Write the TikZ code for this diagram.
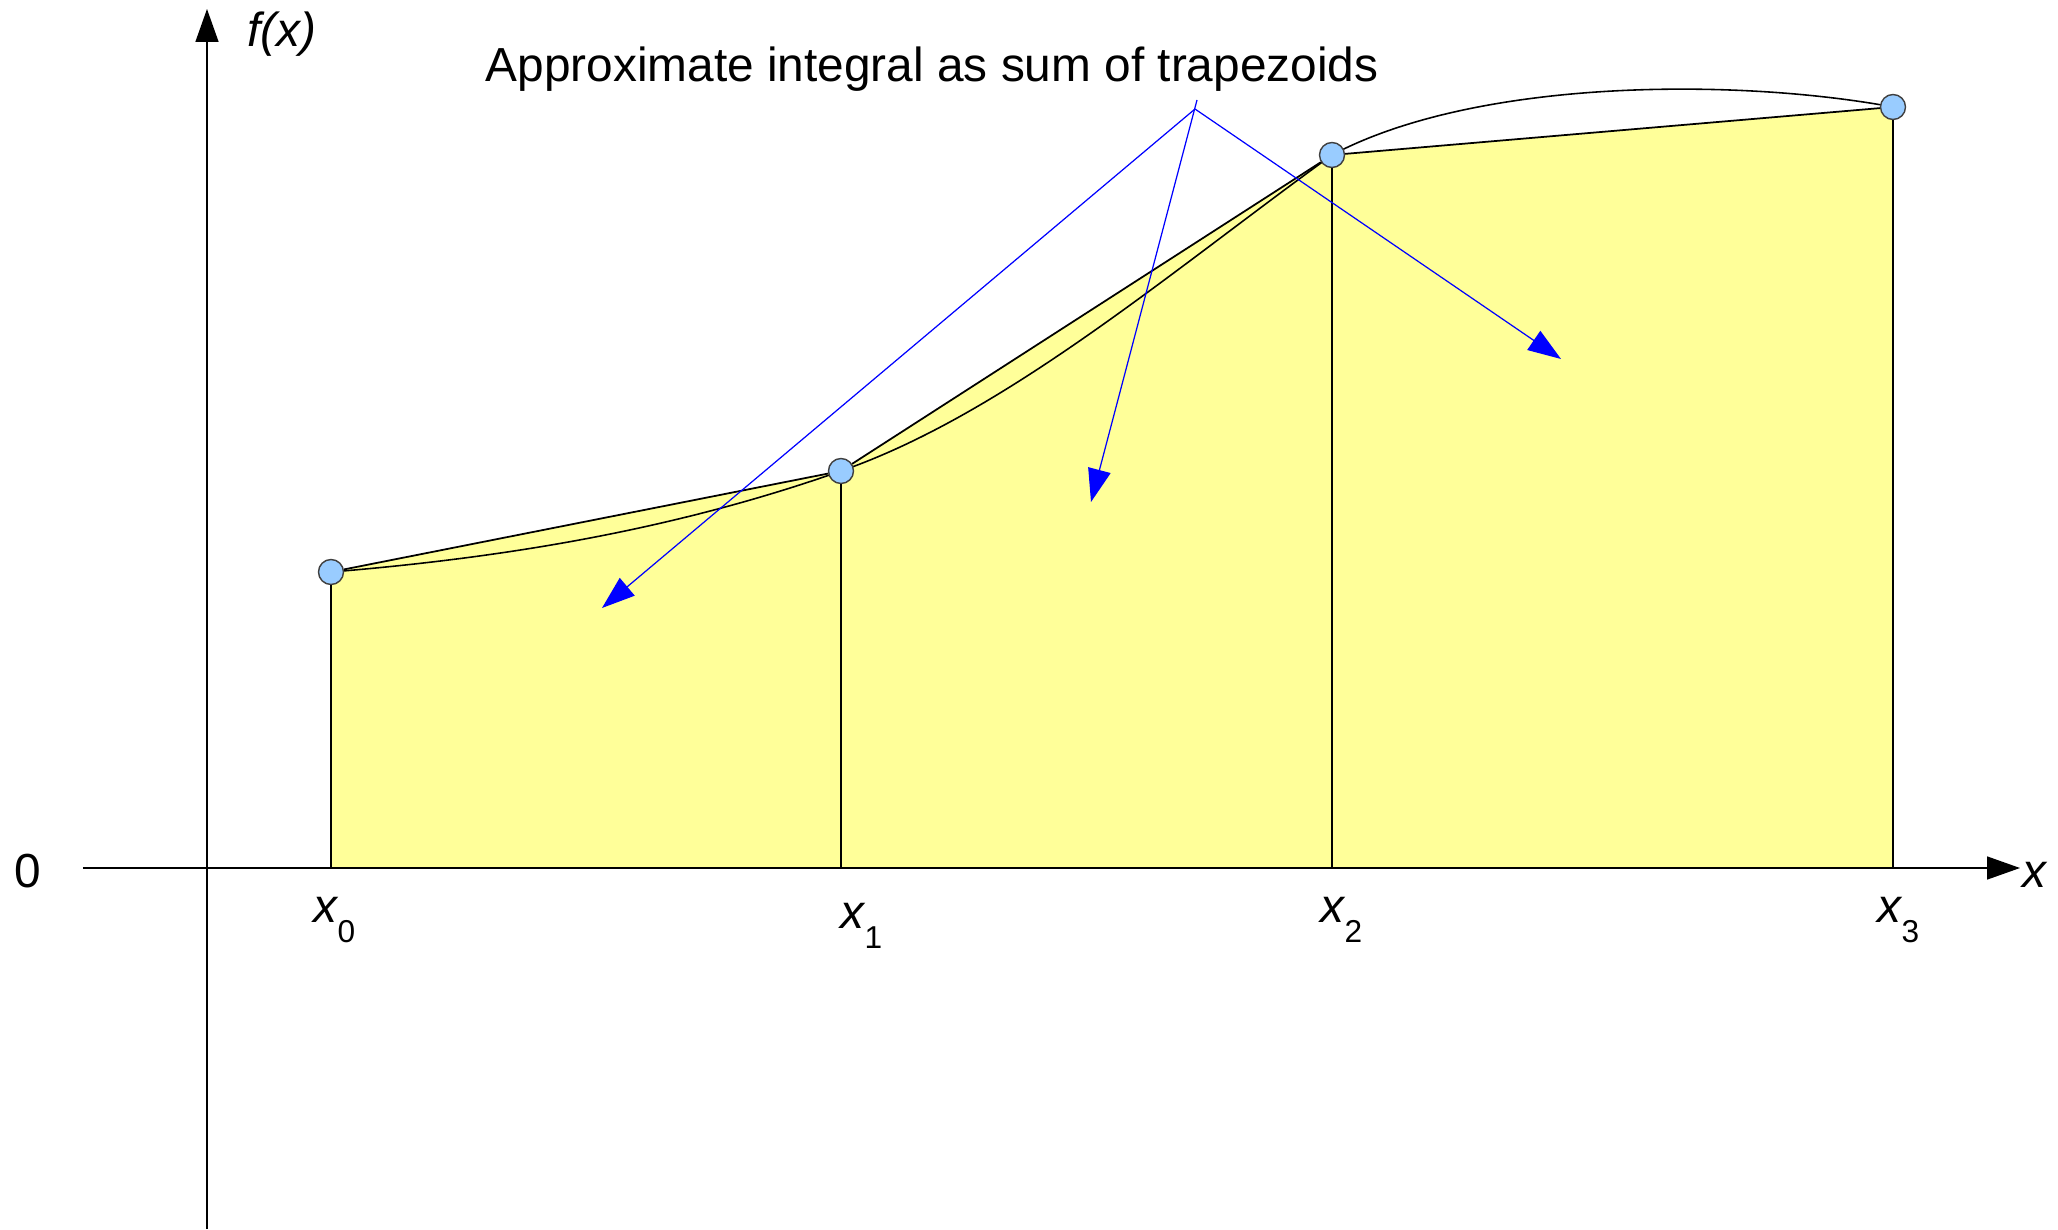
\documentclass[tikz,border=0pt]{standalone}
\usepackage{fontspec}
\setmainfont{Liberation Sans}
\usetikzlibrary{arrows.meta, calc, backgrounds}
\definecolor{trapfill}{RGB}{255, 255, 153}
\definecolor{dotfill}{RGB}{153, 204, 255}
\definecolor{pointblue}{RGB}{0, 0, 255}
\newcommand{\lblfont}{\fontsize{13.6pt}{16pt}\selectfont}
\newcommand{\xsub}[1]{{\itshape x}\raisebox{-5.7pt}{\fontsize{9pt}{10pt}\selectfont#1}}

\begin{document}
\begin{tikzpicture}[
    >={Triangle[length=0.33cm, width=0.23cm]},
    axis/.style={->, line width=0.45pt},
    chord/.style={line width=0.5pt},
    fcurve/.style={line width=0.45pt},
    ordinate/.style={line width=0.45pt},
    pointer/.style={->, pointblue, line width=0.35pt},
    sample/.style={
        draw=black!75,
        fill=dotfill,
        circle,
        inner sep=0pt,
        minimum size=0.25cm,
        line width=0.4pt,
    },
    lbl/.style={anchor=base west, inner sep=0pt, font=\lblfont},
]

% -- Page frame
\useasboundingbox (-2.07,-3.61) rectangle (18.51,8.68);

% -- Axes end points
\coordinate (o) at (0,0);
\coordinate (xstart) at (-1.24,0);
\coordinate (xend) at (18.13,0);
\coordinate (ybot) at (0,-3.61);
\coordinate (ytop) at (0,8.59);

% -- Sample points on f(x)
\node[sample] (p0) at (1.24, 2.96) {};
\node[sample] (p1) at (6.34, 3.97) {};
\node[sample] (p2) at (11.25, 7.13) {};
\node[sample] (p3) at (16.86, 7.61) {};

% -- Trapezoid area and the curve itself (behind the dots)
\begin{scope}[on background layer]
    \fill[trapfill] (p0 |- o) -- (p0.center) -- (p1.center) -- (p2.center)
        -- (p3.center) -- (p3 |- o) -- cycle;
    \draw[fcurve] (p0.center) .. controls (2.94,3.10) and (4.64,3.37) .. (p1.center)
        .. controls (7.98,4.54) and (9.62,5.95) .. (p2.center)
        .. controls (12.70,7.90) and (15.30,7.90) .. (p3.center);
\end{scope}

% -- Straight tops of the trapezoids
\draw[chord] (p0) -- (p1);
\draw[chord] (p1) -- (p2);
\draw[chord] (p2) -- (p3);

% -- Ordinates down to the axis
\draw[ordinate] (p0.south) -- (p0 |- o);
\draw[ordinate] (p1.south) -- (p1 |- o);
\draw[ordinate] (p2.south) -- (p2 |- o);
\draw[ordinate] (p3.south) -- (p3 |- o);

% -- Axes
\draw[axis] (xstart) -- (xend);
\draw[axis] (ybot) -- (ytop);

% -- Axis labels
\node[lbl] (zero) at (-1.93,-0.19) {0};
\node[lbl] (xlabel) at (18.15,-0.19) {\itshape x};
\node[lbl] (fxlabel) at (0.40,8.21) {\itshape f(x)};

% -- Sample abscissas
\node[lbl] (x0) at (1.06,-0.54) {\xsub{0}};
\node[lbl] (x1) at (6.33,-0.60) {\xsub{1}};
\node[lbl] (x2) at (11.13,-0.54) {\xsub{2}};
\node[lbl] (x3) at (16.70,-0.54) {\xsub{3}};

% -- Caption and its pointers
\node[lbl] (caption) at (2.78,7.86) {Approximate integral as sum of trapezoids};
\coordinate (hub) at (9.88,7.59);
\coordinate (hubtop) at (9.90,7.68);
\coordinate (tipa) at (3.95,2.60);
\coordinate (tipb) at (8.84,3.66);
\coordinate (tipc) at (13.54,5.09);
\draw[pointer] (hub) -- (tipa);
\draw[pointer] (hubtop) -- (tipb);
\draw[pointer] (hub) -- (tipc);

\end{tikzpicture}
\end{document}
